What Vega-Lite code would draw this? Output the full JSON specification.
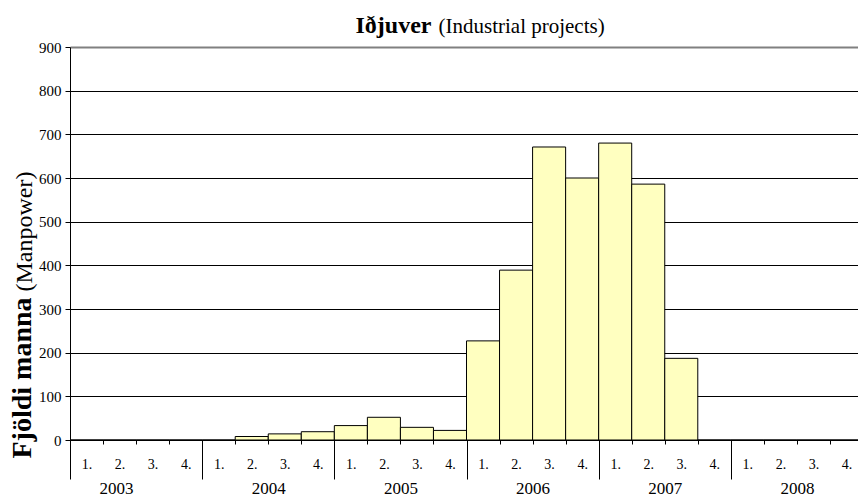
{
  "$schema": "https://vega.github.io/schema/vega-lite/v6.json",
  "width": 793,
  "height": 393,
  "autosize": {"type": "none"},
  "padding": {"left": 70, "top": 47, "right": -5, "bottom": 59},
  "config": {
    "font": "Liberation Serif",
    "view": {"stroke": null},
    "background": "#ffffff",
    "axis": {"labelFont": "Liberation Serif", "titleFont": "Liberation Serif"}
  },
  "data": {
    "values": [
      {"q": "2003-1", "year": "2003", "value": 0},
      {"q": "2003-2", "year": "2003", "value": 0},
      {"q": "2003-3", "year": "2003", "value": 0},
      {"q": "2003-4", "year": "2003", "value": 0},
      {"q": "2004-1", "year": "2004", "value": 0},
      {"q": "2004-2", "year": "2004", "value": 8},
      {"q": "2004-3", "year": "2004", "value": 14},
      {"q": "2004-4", "year": "2004", "value": 19},
      {"q": "2005-1", "year": "2005", "value": 33},
      {"q": "2005-2", "year": "2005", "value": 52},
      {"q": "2005-3", "year": "2005", "value": 29},
      {"q": "2005-4", "year": "2005", "value": 22},
      {"q": "2006-1", "year": "2006", "value": 227},
      {"q": "2006-2", "year": "2006", "value": 389},
      {"q": "2006-3", "year": "2006", "value": 671},
      {"q": "2006-4", "year": "2006", "value": 600},
      {"q": "2007-1", "year": "2007", "value": 680},
      {"q": "2007-2", "year": "2007", "value": 586},
      {"q": "2007-3", "year": "2007", "value": 187},
      {"q": "2007-4", "year": "2007", "value": 0},
      {"q": "2008-1", "year": "2008", "value": 0},
      {"q": "2008-2", "year": "2008", "value": 0},
      {"q": "2008-3", "year": "2008", "value": 0},
      {"q": "2008-4", "year": "2008", "value": 0}
    ]
  },
  "layer": [
    {
      "mark": {"type": "bar", "fill": "#FFFFC0", "stroke": "#000000", "strokeWidth": 1},
      "encoding": {
        "x": {
          "field": "q", "type": "ordinal",
          "scale": {"paddingInner": 0, "paddingOuter": 0},
          "axis": {
            "orient": "bottom",
            "labelExpr": "isString(datum.value) ? split(datum.value, '-')[1] + '.' : ''",
            "labelAngle": 0,
            "tickBand": "extent",
            "tickSize": 4,
            "tickColor": "#000000",
            "domainColor": "#000000",
            "labelColor": "#000000",
            "labelFontSize": 14,
            "labelPadding": 13,
            "title": "(Industrial projects)",
            "titleFontWeight": "normal",
            "titleFontSize": 21,
            "titleColor": "#000000",
            "titleX": 368,
            "titleY": -408,
            "titleAlign": "left",
            "titleBaseline": "alphabetic"
          }
        },
        "y": {
          "field": "value", "type": "quantitative",
          "scale": {"domain": [0, 900], "nice": false},
          "axis": {
            "orient": "left",
            "values": [0, 100, 200, 300, 400, 500, 600, 700, 800, 900],
            "grid": true,
            "gridColor": {"condition": {"test": "datum.value == 900", "value": "#808080"}, "value": "#000000"},
            "gridWidth": {"condition": {"test": "datum.value == 900", "value": 2}, "value": 1},
            "gridOpacity": 1,
            "tickSize": 5,
            "tickColor": "#000000",
            "domainColor": "#000000",
            "labelColor": "#000000",
            "labelFontSize": 15,
            "labelPadding": 4,
            "title": "Fjöldi manna",
            "titleFontWeight": "bold",
            "titleFontSize": 28,
            "titleColor": "#000000",
            "titleAngle": -90,
            "titleX": -40,
            "titleY": 411,
            "titleAlign": "left",
            "titleBaseline": "alphabetic"
          }
        }
      }
    },
    {
      "mark": {"type": "point", "opacity": 0},
      "encoding": {
        "x": {
          "field": "year", "type": "ordinal",
          "scale": {"paddingInner": 0, "paddingOuter": 0},
          "axis": {
            "orient": "bottom",
            "labelAngle": 0,
            "tickBand": "extent",
            "tickSize": 39,
            "tickColor": "#000000",
            "domain": false,
            "labelColor": "#000000",
            "labelFontSize": 17,
            "labelPadding": 1,
            "labelOffset": {"condition": {"test": "datum.value == '2003'", "value": -20}, "value": 0},
            "title": "Iðjuver",
            "titleFontWeight": "bold",
            "titleFontSize": 24,
            "titleColor": "#000000",
            "titleX": 285,
            "titleY": -408,
            "titleAlign": "left",
            "titleBaseline": "alphabetic"
          }
        },
        "y": {
          "field": "value", "type": "quantitative",
          "scale": {"domain": [0, 900], "nice": false},
          "axis": {
            "orient": "left",
            "labels": false,
            "ticks": false,
            "domain": false,
            "grid": false,
            "title": "(Manpower)",
            "titleFontWeight": "normal",
            "titleFontSize": 24,
            "titleColor": "#000000",
            "titleAngle": -90,
            "titleX": -39,
            "titleY": 244,
            "titleAlign": "left",
            "titleBaseline": "alphabetic"
          }
        }
      }
    }
  ],
  "resolve": {"scale": {"x": "independent", "y": "independent"}}
}
